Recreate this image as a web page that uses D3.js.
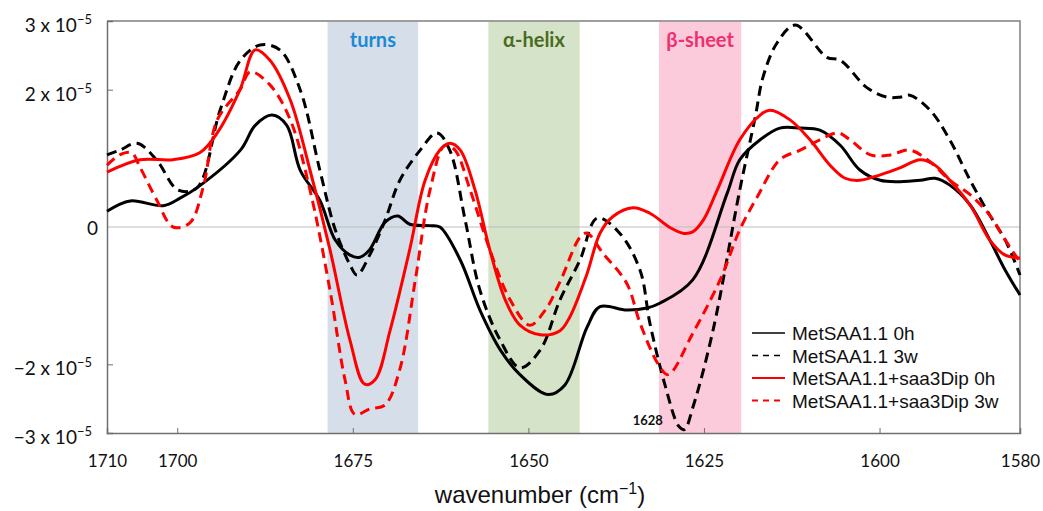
<!DOCTYPE html>
<html><head><meta charset="utf-8">
<script src="https://cdn.jsdelivr.net/npm/d3@7"></script>
<style>
html,body{margin:0;padding:0;background:#fff;}
svg{display:block;}
</style></head>
<body>
<svg id="chart" width="1043" height="511"></svg>
<script>
// ---- data (values in units of 1e-5) ----
const xTicks = [1710, 1700, 1675, 1650, 1625, 1600, 1580];
const yTicks = [3, 2, 0, -2, -3];
const bands = [
  {name: "turns",   from: 1678.6, to: 1665.7},
  {name: "α-helix", from: 1655.7, to: 1642.7},
  {name: "β-sheet", from: 1631.4, to: 1619.7}
];
const seriesNames = ["MetSAA1.1 0h", "MetSAA1.1 3w", "MetSAA1.1+saa3Dip 0h", "MetSAA1.1+saa3Dip 3w"];

const metSAA_0h = [
  [1710,0.23],[1706.7,0.38],[1702.0,0.31],[1699.6,0.42],[1697.2,0.57],[1691.0,1.12],[1688.9,1.48],
  [1686.5,1.63],[1684.4,1.48],[1682.5,0.83],[1679.7,0.39],[1677.5,-0.19],[1675.4,-0.41],[1674.0,-0.44],
  [1672.6,-0.33],[1670.4,0.07],[1668.6,0.16],[1666.9,0.04],[1664.0,0.02],[1662.6,0.0],[1659.7,-0.48],
  [1656.9,-1.21],[1654.0,-1.79],[1651.2,-2.15],[1647.2,-2.44],[1644.8,-2.30],[1641.65,-1.46],[1639.8,-1.16],
  [1636.0,-1.21],[1633.1,-1.18],[1631.3,-1.11],[1626.6,-0.77],[1621.7,0.49],[1619.9,0.98],[1617.0,1.27],
  [1614.2,1.44],[1611.3,1.44],[1608.5,1.41],[1605.6,1.19],[1602.8,0.83],[1599.9,0.68],[1597.1,0.66],
  [1594.2,0.68],[1592.1,0.71],[1590.0,0.61],[1587.1,0.32],[1584.3,-0.19],[1582.1,-0.63],[1580,-0.99]
];
const metSAA_3w = [
  [1710,1.05],[1708.15,1.12],[1705.7,1.22],[1702.9,0.97],[1699.9,0.54],[1697.2,0.57],[1693.9,1.70],
  [1691.06,2.42],[1688.2,2.65],[1685.4,2.58],[1682.5,2.0],[1679.7,0.83],[1677.5,-0.04],[1675.4,-0.55],
  [1674.4,-0.70],[1672.6,-0.41],[1670.4,0.10],[1668.3,0.68],[1665.4,1.12],[1663.0,1.37],[1661.2,1.12],
  [1659.0,0.10],[1656.9,-0.92],[1654.0,-1.65],[1651.2,-2.05],[1648.3,-1.79],[1645.5,-1.06],[1642.65,-0.48],
  [1640.2,0.13],[1637.0,-0.09],[1634.1,-0.63],[1632.7,-1.40],[1630.55,-2.30],[1628.6,-2.90],[1627.8,-2.95],
  [1626.5,-2.6],[1623.7,-1.50],[1619.9,0.54],[1617.7,1.60],[1616.6,2.18],[1614.6,2.68],[1612.0,2.94],
  [1607.5,2.47],[1605.6,2.43],[1601.8,2.03],[1598.9,1.89],[1597.1,1.89],[1595.7,1.92],[1592.8,1.70],
  [1590.0,1.27],[1587.1,0.68],[1584.3,0.17],[1582.1,-0.19],[1580,-0.70]
];
const dip_0h = [
  [1710,0.80],[1705.3,0.98],[1700.6,0.98],[1696.8,1.08],[1694.3,1.37],[1691.06,2.0],[1688.9,2.58],
  [1686.8,2.43],[1683.9,1.85],[1681.1,0.83],[1678.25,-0.33],[1675.4,-1.65],[1673.3,-2.29],[1671.8,-2.22],
  [1669.7,-1.51],[1666.9,-0.33],[1664.7,0.68],[1662.6,1.12],[1661.2,1.22],[1659.7,1.12],[1657.6,0.54],
  [1655.5,-0.33],[1653.3,-1.06],[1651.2,-1.43],[1648.3,-1.57],[1645.5,-1.51],[1644.1,-1.31],[1641.65,-0.68],
  [1639.8,-0.09],[1638.0,0.15],[1635.1,0.28],[1632.7,0.20],[1629.8,-0.01],[1628.0,-0.09],[1626.6,-0.07],
  [1625.1,0.10],[1623.1,0.54],[1619.9,1.27],[1617.0,1.63],[1615.6,1.70],[1612.75,1.56],[1609.9,1.27],
  [1607.05,0.90],[1604.9,0.71],[1602.8,0.68],[1599.9,0.76],[1597.1,0.86],[1594.2,0.98],[1592.1,0.90],
  [1590.0,0.68],[1587.1,0.32],[1584.3,-0.19],[1582.1,-0.41],[1580,-0.45]
];
const dip_3w = [
  [1710,0.90],[1708.2,1.05],[1706.5,1.08],[1705.3,0.87],[1702.9,0.39],[1700.6,0.0],[1698.2,0.06],
  [1696.3,0.58],[1694.3,1.56],[1691.06,2.0],[1689.6,2.26],[1686.8,2.07],[1683.9,1.56],[1681.1,0.54],
  [1678.25,-0.92],[1676.1,-2.23],[1674.7,-2.73],[1672.6,-2.65],[1670.4,-2.59],[1668.3,-2.07],[1666.1,-0.77],
  [1664.0,0.54],[1661.9,1.19],[1660.45,1.12],[1658.3,0.54],[1655.5,-0.33],[1652.6,-1.06],[1649.8,-1.43],
  [1647.6,-1.21],[1645.5,-0.80],[1642.65,-0.15],[1641.65,-0.09],[1639.4,-0.38],[1636.0,-0.82],[1634.1,-1.40],
  [1631.5,-2.0],[1630.1,-2.15],[1626.6,-1.55],[1622.7,-0.77],[1619.9,-0.04],[1617.4,0.44],[1614.2,0.98],
  [1611.3,1.12],[1608.5,1.27],[1605.9,1.37],[1604.2,1.27],[1601.3,1.05],[1598.5,1.05],[1595.7,1.12],
  [1592.8,0.95],[1590.0,0.68],[1587.1,0.47],[1584.3,0.17],[1582.1,-0.19],[1580,-0.51]
];
const annotation = {text: "1628", wn: 1628};

// ---- styles ----
const bandFill = ["#d6dfe9", "#d5e3c9", "#fbcadb"];
const bandText = ["#1a8ad4", "#4b6b22", "#f0306e"];
const seriesStyle = [
  {color: "#000", dash: null},
  {color: "#000", dash: "10,6"},
  {color: "#ff0000", dash: null},
  {color: "#ff0000", dash: "10,6"}
];
const seriesData = [metSAA_0h, metSAA_3w, dip_0h, dip_3w];

const svg = d3.select("#chart");
const x = d3.scaleLinear().domain([1710, 1580]).range([107, 1020]);
const y = d3.scaleLinear().domain([-3, 3]).range([433, 21]);

// bands
const bg = svg.append("g");
bands.forEach((b, i) => {
  bg.append("rect")
    .attr("x", x(b.from)).attr("width", x(b.to) - x(b.from))
    .attr("y", y(3) + 1).attr("height", y(-3) - y(3) - 1)
    .attr("fill", bandFill[i]);
  bg.append("text")
    .attr("x", (x(b.from) + x(b.to)) / 2).attr("y", 47)
    .attr("text-anchor", "middle")
    .attr("font-family", "Lato, 'Open Sans', sans-serif")
    .attr("font-weight", "bold").attr("font-size", 20)
    .attr("fill", bandText[i]).text(b.name);
});

// zero line
svg.append("line")
  .attr("x1", x(1710)).attr("x2", x(1580))
  .attr("y1", y(0)).attr("y2", y(0))
  .attr("stroke", "#bdbdbd").attr("stroke-width", 1);

// frame top/right
svg.append("path")
  .attr("d", `M${x(1710)},${y(3)}H${x(1580)}V${y(-3)}`)
  .attr("fill", "none").attr("stroke", "#7f7f7f").attr("stroke-width", 1.5);

// axes
const xAxis = d3.axisBottom(x).tickValues(xTicks).tickSize(-5).tickPadding(22).tickFormat(d3.format("d"));
const gx = svg.append("g").attr("transform", `translate(0,${y(-3)})`).call(xAxis);
gx.select(".domain").attr("stroke", "#6f6f6f").attr("stroke-width", 1.5);
gx.selectAll(".tick line").attr("stroke", "#6f6f6f");
gx.selectAll(".tick text").attr("font-family", "Lato, sans-serif").attr("font-size", 17).attr("fill", "#111");

const yAxis = d3.axisLeft(y).tickValues(yTicks.filter(v => v !== 0)).tickSize(-6).tickFormat("");
const gy = svg.append("g").attr("transform", `translate(${x(1710)},0)`).call(yAxis);
gy.select(".domain").attr("stroke", "#6f6f6f").attr("stroke-width", 1.5);
gy.selectAll(".tick line").attr("stroke", "#6f6f6f");

// y labels with superscript
yTicks.forEach(v => {
  const t = svg.append("text")
    .attr("x", v === 0 ? 98 : 92).attr("y", y(v) + (v === 0 ? 8 : 11))
    .attr("text-anchor", "end")
    .attr("font-family", "Lato, sans-serif").attr("font-size", 19).attr("fill", "#111");
  if (v === 0) { t.text("0"); return; }
  t.append("tspan").text((v < 0 ? "\u2212" : "") + Math.abs(v) + " x 10");
  t.append("tspan").attr("font-size", 13).attr("dy", -8).text("\u22125");
});

// lines
const line = d3.line().x(d => x(d[0])).y(d => y(d[1])).curve(d3.curveCatmullRom.alpha(0.5));
seriesData.forEach((data, i) => {
  svg.append("path").datum(data)
    .attr("d", line)
    .attr("fill", "none")
    .attr("stroke", seriesStyle[i].color)
    .attr("stroke-width", 3)
    .attr("stroke-dasharray", seriesStyle[i].dash)
    .attr("stroke-linejoin", "round");
});

// annotation
svg.append("text")
  .attr("x", x(annotation.wn) - 20).attr("y", 425)
  .attr("text-anchor", "end")
  .attr("font-family", "Lato, sans-serif").attr("font-weight", "bold").attr("font-size", 13)
  .attr("fill", "#111").text(annotation.text);

// legend
const lg = svg.append("g");
seriesNames.forEach((n, i) => {
  const yy = 333 + i * 22.5;
  lg.append("line").attr("x1", 752).attr("x2", 785).attr("y1", yy).attr("y2", yy)
    .attr("stroke", seriesStyle[i].color).attr("stroke-width", i < 2 ? 1.6 : 2)
    .attr("stroke-dasharray", seriesStyle[i].dash ? "6,5" : null);
  lg.append("text").attr("x", 792).attr("y", yy + 7)
    .attr("font-family", "'Liberation Sans', Arial, sans-serif").attr("font-size", 19)
    .attr("fill", "#111").text(n);
});

// axis title
const tt = svg.append("text").attr("x", 540).attr("y", 503).attr("text-anchor", "middle")
  .attr("font-family", "'Liberation Sans', Arial, sans-serif").attr("font-size", 24).attr("fill", "#111");
tt.append("tspan").text("wavenumber (cm");
tt.append("tspan").attr("font-size", 16).attr("dy", -9).text("\u22121");
tt.append("tspan").attr("dy", 9).text(")");
</script>
</body></html>
